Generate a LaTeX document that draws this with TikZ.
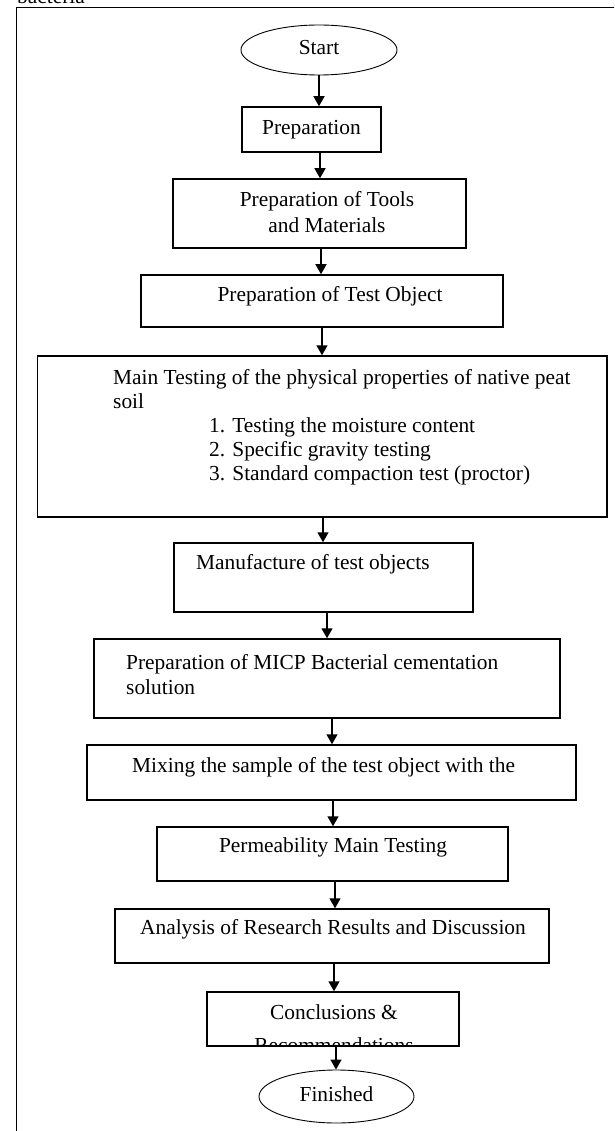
\documentclass[tikz,border=0pt]{standalone}
\usepackage{fontspec}
\setmainfont{Liberation Serif}
\usepackage{tikz}
\usetikzlibrary{shapes,arrows,positioning,calc,arrows.meta}

\begin{document}
\begin{tikzpicture}[x=1pt, y=-1pt,
    stepbox/.style={draw, line width=1.5pt, inner sep=0pt},
    term/.style={draw, ellipse, line width=0.9pt, inner sep=0pt},
    txt/.style={inner sep=0pt, font=\fontsize{21.4}{25}\selectfont, text height=14.6pt, text depth=4.7pt},
    para/.style={inner sep=0pt, font=\fontsize{21.4}{25}\selectfont},
    flow/.style={-{Triangle[length=10pt,width=11pt]}, line width=1.5pt}]
    \useasboundingbox (0,0) rectangle (614,1131);
    \clip (0,0) rectangle (614,1131);

    % Frame
    \node[txt, anchor=base west] (heading) at (17,4) {bacteria};
    \draw[line width=1pt] (16.5,1140) -- (16.5,8) -- (620,8);

    % Steps
    \node[term, txt, minimum width=156pt, minimum height=50pt] (start) at (319,50) {Start};
    \node[stepbox, txt, minimum width=139pt, minimum height=45pt] (prep) at (311.5,129.5) {Preparation};

    \node[stepbox, minimum width=293pt, minimum height=69pt] (tools) at (319.5,213.5) {};
    \node[para, align=center, anchor=north, font=\fontsize{21.4}{26}\selectfont] (toolsTxt) at (327,191.5) {Preparation of Tools\\and Materials};

    \node[stepbox, minimum width=362pt, minimum height=52pt] (test) at (322,301) {};
    \node[txt] (testTxt) at (330,297) {Preparation of Test Object};

    \node[stepbox, minimum width=569.5pt, minimum height=161pt] (main) at (322.25,436.5) {};
    \node[para, align=left, anchor=north west, font=\fontsize{21.4}{24}\selectfont] (mainTxt) at (113,369.5)
        {Main Testing of the physical properties of native peat\\soil\\
         \hspace*{96pt}1. Testing the moisture content\\
         \hspace*{96pt}2. Specific gravity testing\\
         \hspace*{96pt}3. Standard compaction test (proctor)};

    \node[stepbox, minimum width=299pt, minimum height=69pt] (manuf) at (323.5,577.5) {};
    \node[txt, anchor=west] (manufTxt) at (196,565) {Manufacture of test objects};

    \node[stepbox, minimum width=466pt, minimum height=79pt] (micp) at (327,678.5) {};
    \node[para, align=left, anchor=north west] (micpTxt) at (126,654.4)
        {Preparation of MICP Bacterial cementation\\solution};

    \node[stepbox, minimum width=489pt, minimum height=55pt] (mixing) at (331.5,772.5) {};
    \node[txt, anchor=west] (mixingTxt) at (132,768) {Mixing the sample of the test object with the};

    \node[stepbox, minimum width=351pt, minimum height=54pt] (perm) at (332.5,854) {};
    \node[txt] (permTxt) at (333,848) {Permeability Main Testing};

    \node[stepbox, minimum width=434pt, minimum height=54pt] (analysis) at (332,936) {};
    \node[txt] (analysisTxt) at (333,930) {Analysis of Research Results and Discussion};

    \node[stepbox, minimum width=252pt, minimum height=54pt] (concl) at (333,1019) {};
    \begin{scope}
        \clip (concl.south west) rectangle (concl.north east);
        \node[para, align=center, anchor=north, font=\fontsize{21.4}{33}\selectfont] (conclTxt) at (334,1004) {Conclusions \&\\Recommendations};
    \end{scope}

    \node[term, txt, minimum width=155pt, minimum height=53pt] (finish) at (336.5,1096.5) {Finished};

    % Arrows
    \foreach \a/\b/\x in {start/prep/319, prep/tools/320, tools/test/321, test/main/322,
        main/manuf/323, manuf/micp/327, micp/mixing/332, mixing/perm/333,
        perm/analysis/335, analysis/concl/334, concl/finish/336}
        \draw[flow] (\x,0 |- \a.south) -- (\x,0 |- \b.north);
\end{tikzpicture}
\end{document}
